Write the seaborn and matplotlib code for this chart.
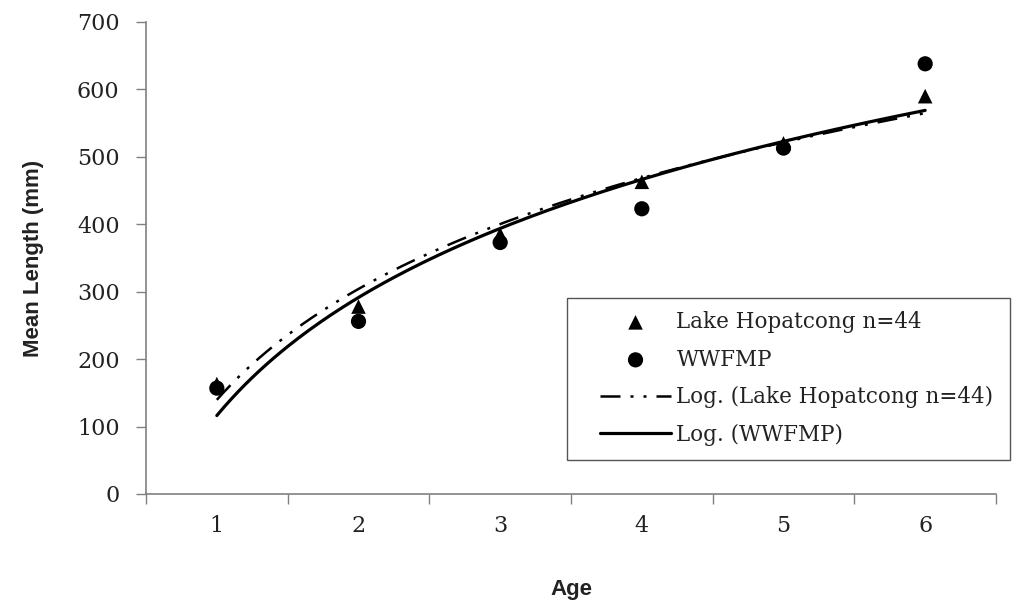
import numpy as np
import pandas as pd
import matplotlib
matplotlib.use("Agg")
import matplotlib.pyplot as plt
import matplotlib.patches as mpatches
import seaborn as sns
from matplotlib.ticker import FixedLocator, NullFormatter, FixedFormatter

ages = [1, 2, 3, 4, 5, 6]
lake_hopatcong = [163, 278, 385, 463, 520, 590]
wwfmp = [157, 256, 373, 423, 513, 638]
lake_label = "Lake Hopatcong n=44"
wwfmp_label = "WWFMP"

sns.set_theme(style="white")
plt.rcParams['font.family'] = ['DejaVu Serif']

fig = plt.figure(figsize=(10.19, 6.11), dpi=100)
ax = fig.add_axes([146/1019, 117/611, 850/1019, 472/611])

df = pd.DataFrame({"Age": ages * 2,
                   "Length": lake_hopatcong + wwfmp,
                   "Series": [lake_label] * 6 + [wwfmp_label] * 6})

sns.scatterplot(data=df[df.Series == lake_label], x="Age", y="Length", marker="^",
                color="black", s=110, edgecolor="none", ax=ax, label=lake_label, zorder=3)
sns.scatterplot(data=df[df.Series == wwfmp_label], x="Age", y="Length", marker="o",
                color="black", s=120, edgecolor="none", ax=ax, label=wwfmp_label, zorder=3)

# Logarithmic trendlines fitted from the data
xs = np.linspace(1, 6, 200)
a1, b1 = np.polyfit(np.log(ages), lake_hopatcong, 1)
a2, b2 = np.polyfit(np.log(ages), wwfmp, 1)
sns.lineplot(x=xs, y=a1 * np.log(xs) + b1, color="black", lw=1.8, ax=ax,
             label="Log. (Lake Hopatcong n=44)", zorder=2)
ax.lines[-1].set_dashes([8, 4, 1.2, 4, 1.2, 4])
sns.lineplot(x=xs, y=a2 * np.log(xs) + b2, color="black", lw=2.3, ax=ax,
             label="Log. (WWFMP)", zorder=2)

ax.set_xlim(0.5, 6.5)
ax.set_ylim(0, 700)
ax.set_yticks(np.arange(0, 701, 100))
ax.xaxis.set_major_locator(FixedLocator(np.arange(0.5, 6.6, 1)))
ax.xaxis.set_major_formatter(NullFormatter())
ax.xaxis.set_minor_locator(FixedLocator(ages))
ax.xaxis.set_minor_formatter(FixedFormatter([str(a) for a in ages]))
ax.tick_params(axis="x", which="major", direction="out", length=7, width=1, color="#808080", bottom=True)
ax.tick_params(axis="x", which="minor", length=0, pad=15, labelsize=16, labelcolor="#222222")
ax.tick_params(axis="y", direction="out", length=7, width=1, color="#808080", left=True,
               labelsize=16, labelcolor="#222222", pad=12)

for s in ["top", "right"]:
    ax.spines[s].set_visible(False)
for s in ["left", "bottom"]:
    ax.spines[s].set_color("#808080")
    ax.spines[s].set_linewidth(1.2)

lab_font = dict(family=["Liberation Sans Narrow", "Liberation Sans", "DejaVu Sans"],
                weight="bold", size=16, color="#222222")
ax.set_ylabel("Mean Length (mm)", fontdict=lab_font, labelpad=24)
ax.set_xlabel("Age", fontdict=lab_font, labelpad=30)

# legend frame (extends past the plot area, as in the reference)
frame = mpatches.Rectangle((567/1019, 1 - 460/611), (1010-567)/1019, (460-298)/611,
                           transform=fig.transFigure, facecolor="white",
                           edgecolor="#555555", linewidth=1.0, zorder=5, clip_on=False)
ax.add_artist(frame)

leg = ax.legend(loc="upper left", bbox_to_anchor=(600/1019, 1 - 311/611),
                bbox_transform=fig.transFigure, frameon=False,
                borderaxespad=0, borderpad=0, fontsize=15.5, handlelength=3.3,
                labelspacing=0.72, handletextpad=0.25)
leg.set_zorder(6)
for t in leg.get_texts():
    t.set_color("#222222")

fig.savefig("out.png", dpi=100)
